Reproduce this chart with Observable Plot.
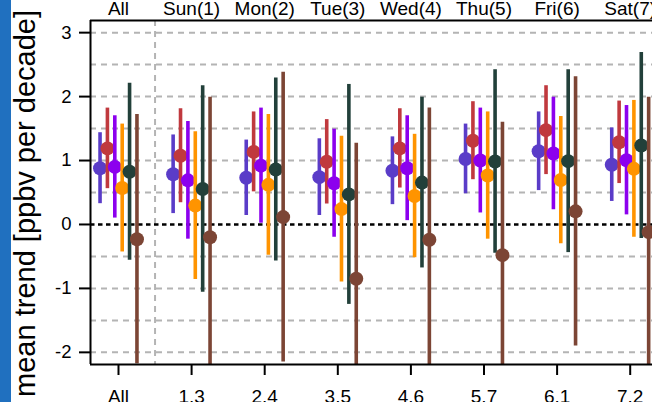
<!DOCTYPE html>
<html><head><meta charset="utf-8">
<script src="https://cdn.jsdelivr.net/npm/d3@7"></script>
<script src="https://cdn.jsdelivr.net/npm/@observablehq/plot@0.6"></script>
<style>
html,body{margin:0;padding:0;background:#fff;overflow:hidden;}
#chart{position:relative;width:652px;height:402px;overflow:hidden;}
</style></head><body><div id="chart"></div>
<script>
// Categories
const groupsTop = ["All","Sun(1)","Mon(2)","Tue(3)","Wed(4)","Thu(5)","Fri(6)","Sat(7)"];
const groupsBottom = ["All","1.3","2.4","3.5","4.6","5.7","6.1","7.2"];
const seriesNames = ["s1","s2","s3","s4","s5","s6"];
const seriesColors = ["#5a3cc8","#c0393e","#8c00ee","#ff9400","#22403a","#7c4535"];
const yTicks = [-2,-1,0,1,2,3];
const yGrid = [-2,-1.5,-1,-0.5,0.5,1,1.5,2,2.5,3];
const yLabel = "mean trend [ppbv per decade]";

// Series values: mean trend and half-width of error bar
const mean1 = [0.88,0.785,0.73,0.74,0.84,1.025,1.145,0.935];
const err1  = [0.555,0.615,0.59,0.60,0.53,0.545,0.615,0.575];
const mean2 = [1.19,1.075,1.135,0.98,1.19,1.31,1.475,1.285];
const err2  = [0.63,0.735,0.625,0.66,0.62,0.61,0.695,0.645];
const mean3 = [0.90,0.69,0.92,0.645,0.88,1.0,1.11,1.005];
const err3  = [0.80,0.92,0.90,0.845,0.82,0.82,0.88,0.855];
const mean4 = [0.57,0.295,0.62,0.24,0.445,0.765,0.695,0.87];
const err4  = [1.0,1.155,1.10,1.14,0.965,0.995,0.995,1.07];
const mean5 = [0.825,0.555,0.86,0.47,0.655,0.985,0.99,1.235];
const err5  = [1.385,1.615,1.43,1.72,1.335,1.435,1.43,1.455];
const mean6 = [-0.23,-0.20,0.115,-0.85,-0.24,-0.48,0.205,-0.12];
const err6  = [1.95,2.19,2.265,2.12,2.06,2.08,2.105,2.11];

const means = [mean1,mean2,mean3,mean4,mean5,mean6];
const errs = [err1,err2,err3,err4,err5,err6];

const xDomain = [-0.383, 7.305];
const yDomain = [-2.19, 3.19];

const seriesData = means.map((m, k) => m.map((v, i) => ({
  series: seriesNames[k],
  x: i + (k - 2.5) * 0.101,
  y: v,
  lo: v - errs[k][i],
  hi: v + errs[k][i]
})));

const seriesMarks = seriesData.flatMap((data, k) => [
  Plot.ruleX(data, {x: "x", y1: "lo", y2: "hi", stroke: seriesColors[k], strokeWidth: 3.6, clip: true}),
  Plot.dot(data, {x: "x", y: "y", r: 7, fill: seriesColors[k], stroke: "none", clip: true})
]);

const gridStyle = {stroke: "#b4b4b4", strokeWidth: 2, strokeDasharray: "6,5"};

const plot = Plot.plot({
  width: 652,
  height: 402,
  marginLeft: 90,
  marginRight: 0,
  marginTop: 20,
  marginBottom: 38,
  style: {fontFamily: "'Liberation Sans', Arial, sans-serif", fontSize: "19px", background: "white"},
  x: {type: "linear", domain: xDomain},
  y: {domain: yDomain},
  marks: [
    Plot.ruleY(yGrid, gridStyle),
    Plot.ruleX([0.5], gridStyle),
    Plot.ruleY([0], {stroke: "black", strokeWidth: 2.5, strokeDasharray: "4.5,3.5"}),
    ...seriesMarks,
    Plot.ruleX([xDomain[0]], {stroke: "black", strokeWidth: 2}),
    Plot.ruleY([yDomain[0], yDomain[1]], {stroke: "black", strokeWidth: 2}),
    Plot.axisY({ticks: yTicks, tickFormat: d => d < 0 ? "-" + Math.abs(d) : String(d), tickSize: 11, tickPadding: 8, strokeWidth: 2, fontSize: 18.5, label: null}),
    Plot.axisX({anchor: "bottom", ticks: d3.range(groupsBottom.length), tickFormat: i => groupsBottom[i], tickSize: 11, tickPadding: 14, strokeWidth: 2, fontSize: 19, label: null}),
    Plot.axisX({anchor: "top", ticks: d3.range(groupsTop.length), tickFormat: i => groupsTop[i], tickSize: 0, tickPadding: 6, fontSize: 19, label: null})
  ]
});

const svg = d3.select(plot);
svg.append("rect").attr("x", 0).attr("y", 0).attr("width", 11).attr("height", 402).attr("fill", "#2070bf");
svg.append("text")
  .attr("transform", "translate(35,10) rotate(-90)")
  .attr("text-anchor", "end")
  .attr("font-size", 29)
  .attr("font-family", "'Liberation Sans', Arial, sans-serif")
  .attr("fill", "black")
  .text(yLabel);

document.getElementById("chart").appendChild(plot);
</script></body></html>
